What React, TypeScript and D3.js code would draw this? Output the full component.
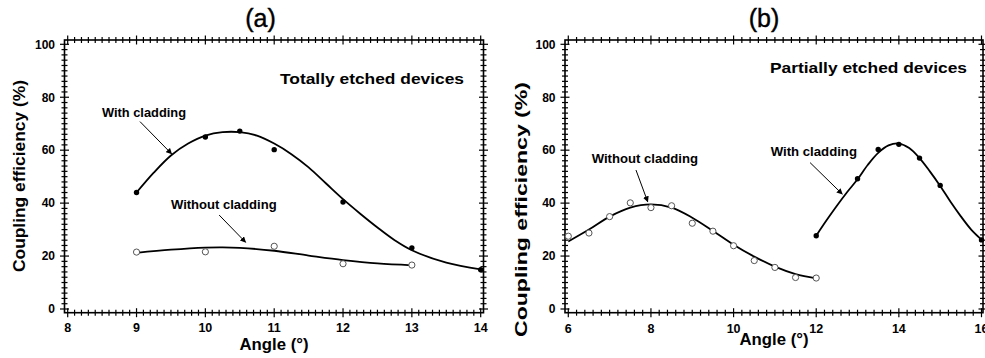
import React from 'react';
import * as d3 from 'd3';

// ---------- data ----------
const xTicksA = [8, 9, 10, 11, 12, 13, 14];
const xTicksB = [6, 8, 10, 12, 14, 16];
const yTicks = [0, 20, 40, 60, 80, 100];

// Panel (a) measured points
const aWithX = [9, 10, 10.5, 11, 12, 13, 14];
const aWithY = [44, 65, 67.2, 60.2, 40.4, 23.1, 14.8];
const aWithoutX = [9, 10, 11, 12, 13];
const aWithoutY = [21.5, 21.6, 23.7, 17.1, 16.6];
// Panel (a) fitted curves
const aWithFitX = [9, 9.25, 9.5, 9.75, 10, 10.25, 10.5, 10.75, 11, 11.25, 11.5, 11.75, 12, 12.25, 12.5, 12.75, 13, 13.5, 14];
const aWithFitY = [44, 51.5, 58, 62.5, 65.5, 66.8, 66.8, 65.5, 62.5, 58.5, 53.5, 47.5, 41.5, 36, 30.8, 26, 22.2, 17.5, 15];
const aWithoutFitX = [9, 9.5, 10, 10.25, 10.5, 11, 11.5, 12, 12.5, 13];
const aWithoutFitY = [21.2, 22.4, 23.2, 23.3, 23.1, 22.0, 20.2, 18.5, 17.2, 16.5];

// Panel (b) measured points
const bWithoutX = [6, 6.5, 7, 7.5, 8, 8.5, 9, 9.5, 10, 10.5, 11, 11.5, 12];
const bWithoutY = [27.5, 28.7, 34.9, 40.1, 38.3, 39, 32.4, 29.4, 23.9, 18.3, 15.7, 11.9, 11.7];
const bWithX = [12, 13, 13.5, 14, 14.5, 15, 16];
const bWithY = [27.7, 49.2, 60.3, 62.2, 57, 46.7, 26.1];
// Panel (b) fitted curves
const bWithoutFitX = [6, 6.5, 7, 7.5, 8, 8.5, 9, 9.5, 10, 10.5, 11, 11.5, 12];
const bWithoutFitY = [25.5, 30, 34.9, 38.3, 39.5, 38.3, 34.5, 29.5, 24.3, 19.8, 16, 13.2, 11.6];
const bWithFitX = [12, 12.25, 12.5, 12.75, 13, 13.25, 13.5, 13.75, 14, 14.25, 14.5, 14.75, 15, 15.25, 15.5, 15.75, 16];
const bWithFitY = [27.7, 33.5, 39, 44.2, 49, 54.5, 59, 61.8, 62.5, 60.8, 57, 52, 46.5, 40.5, 35, 30, 26.2];

const FONT = '"Liberation Sans", Arial, Helvetica, sans-serif';

type Pt = [number, number];
const zip = (xs: number[], ys: number[]): Pt[] => xs.map((x, i) => [x, ys[i]]);

interface Annot {
  text: string;
  x: number;
  y: number;
  len: number;
  tail: Pt;
  tip: Pt;
}

interface PanelProps {
  xDomain: [number, number];
  xRange: [number, number];
  frameX: [number, number];
  xTicks: number[];
  xMinorStep: number;
  tickLabelY: number;
  title: string;
  titleX: number;
  subtitle: string;
  subtitleX: number;
  subtitleY: number;
  subtitleLen: number;
  yLabelX: number;
  yLabelY: number;
  yLabelLen: number;
  xLabelY: number;
  series: { fit: Pt[]; pts: Pt[]; filled: boolean }[];
  annots: Annot[];
}

const yScale = d3.scaleLinear().domain([0, 100]).range([309, 44.3]);
const frameTop = 40;
const frameBottom = 312.7;

function Panel(p: PanelProps) {
  const x = d3.scaleLinear().domain(p.xDomain).range(p.xRange);
  const y = yScale;
  const [fl, fr] = p.frameX;
  const xMinor = d3.range(p.xDomain[0], p.xDomain[1] + 1e-6, p.xMinorStep);
  const yMinor = d3.range(0, 100 + 1e-6, 2);
  const line = d3
    .line<Pt>()
    .x((d) => x(d[0]))
    .y((d) => y(d[1]))
    .curve(d3.curveCatmullRom.alpha(0.5));
  const isMajorX = (v: number) => p.xTicks.some((t) => Math.abs(t - v) < 1e-6);
  const isMajorY = (v: number) => yTicks.some((t) => Math.abs(t - v) < 1e-6);
  const cx = (fl + fr) / 2;
  return (
    <g>
      <rect x={fl} y={frameTop} width={fr - fl} height={frameBottom - frameTop} fill="none" stroke="#000" strokeWidth={1.6} />
      {xMinor.map((v, i) => {
        const L = isMajorX(v) ? 4.5 : 3;
        const px = x(v);
        return (
          <g key={'xt' + i} stroke="#000" strokeWidth={1.2}>
            <line x1={px} x2={px} y1={frameBottom - L} y2={frameBottom + L} />
            <line x1={px} x2={px} y1={frameTop - L} y2={frameTop + L} />
          </g>
        );
      })}
      {yMinor.map((v, i) => {
        const L = isMajorY(v) ? 4.5 : 3;
        const py = y(v);
        return (
          <g key={'yt' + i} stroke="#000" strokeWidth={1.2}>
            <line x1={fl - L} x2={fl + L} y1={py} y2={py} />
            <line x1={fr - L} x2={fr + L} y1={py} y2={py} />
          </g>
        );
      })}
      {p.xTicks.map((t) => (
        <text key={'xl' + t} x={x(t)} y={p.tickLabelY} textAnchor="middle" fontFamily={FONT} fontWeight="bold" fontSize={12.5}>
          {t}
        </text>
      ))}
      {yTicks.map((t) => (
        <text key={'yl' + t} x={fl - 9.5} y={y(t) + 4.3} textAnchor="end" fontFamily={FONT} fontWeight="bold" fontSize={12}>
          {t}
        </text>
      ))}
      <text x={cx} y={p.xLabelY} textAnchor="middle" fontFamily={FONT} fontWeight="bold" fontSize={16} textLength={69} lengthAdjust="spacingAndGlyphs">
        Angle (°)
      </text>
      <text
        transform={`translate(${p.yLabelX},${p.yLabelY}) rotate(-90)`}
        textAnchor="middle"
        fontFamily={FONT}
        fontWeight="bold"
        fontSize={16.5}
        textLength={p.yLabelLen}
        lengthAdjust="spacingAndGlyphs"
      >
        Coupling efficiency (%)
      </text>
      <text x={p.titleX} y={27} textAnchor="middle" fontFamily={FONT} fontSize={25} stroke="#000" strokeWidth={0.4}>
        {p.title}
      </text>
      <text x={p.subtitleX} y={p.subtitleY} fontFamily={FONT} fontWeight="bold" fontSize={15} textLength={p.subtitleLen} lengthAdjust="spacingAndGlyphs">
        {p.subtitle}
      </text>
      {p.series.map((s, si) => (
        <g key={'s' + si}>
          <path d={line(s.fit) || ''} fill="none" stroke="#000" strokeWidth={1.8} />
          {s.pts.map((d, i) =>
            s.filled ? (
              <circle key={i} cx={x(d[0])} cy={y(d[1])} r={2.7} fill="#000" />
            ) : (
              <circle key={i} cx={x(d[0])} cy={y(d[1])} r={3.1} fill="#fff" stroke="#555" strokeWidth={1} />
            )
          )}
        </g>
      ))}
      {p.annots.map((a, i) => (
        <g key={'a' + i}>
          <text x={x(a.x)} y={y(a.y)} fontFamily={FONT} fontWeight="bold" fontSize={12.5} textLength={a.len} lengthAdjust="spacingAndGlyphs">
            {a.text}
          </text>
          <line x1={x(a.tail[0])} y1={y(a.tail[1])} x2={x(a.tip[0])} y2={y(a.tip[1])} stroke="#000" strokeWidth={1} markerEnd="url(#arrowHead)" />
        </g>
      ))}
    </g>
  );
}

export default function App() {
  return (
    <svg width={985} height={358} style={{ position: 'absolute', left: 0, top: 0, background: '#fff' }}>
      <defs>
        <marker id="arrowHead" viewBox="0 0 10 10" refX={9} refY={5} markerWidth={6} markerHeight={6} markerUnits="userSpaceOnUse" orient="auto">
          <path d="M0,0 L10,5 L0,10 z" fill="#000" />
        </marker>
      </defs>
      <rect x={0} y={0} width={985} height={358} fill="#fff" />
      <Panel
        xDomain={[8, 14]}
        xRange={[67.7, 480.7]}
        frameX={[64.5, 483.5]}
        xTicks={xTicksA}
        xMinorStep={0.1}
        tickLabelY={332}
        title="(a)"
        titleX={260.5}
        subtitle="Totally etched devices"
        subtitleX={280}
        subtitleY={84}
        subtitleLen={184}
        yLabelX={25}
        yLabelY={176}
        yLabelLen={192}
        xLabelY={349.5}
        series={[
          { fit: zip(aWithFitX, aWithFitY), pts: zip(aWithX, aWithY), filled: true },
          { fit: zip(aWithoutFitX, aWithoutFitY), pts: zip(aWithoutX, aWithoutY), filled: false },
        ]}
        annots={[
          { text: 'With cladding', x: 8.498, y: 72.7, len: 84, tail: [9.05, 70.8], tip: [9.51, 58.6] },
          { text: 'Without cladding', x: 9.5, y: 37.6, len: 105.7, tail: [10.2, 35.5], tip: [10.585, 25.2] },
        ]}
      />
      <Panel
        xDomain={[6, 16]}
        xRange={[568.3, 981.5]}
        frameX={[565, 983]}
        xTicks={xTicksB}
        xMinorStep={0.2}
        tickLabelY={333}
        title="(b)"
        titleX={764}
        subtitle="Partially etched devices"
        subtitleX={770}
        subtitleY={72.5}
        subtitleLen={197}
        yLabelX={527}
        yLabelY={209.5}
        yLabelLen={255}
        xLabelY={345}
        series={[
          { fit: zip(bWithoutFitX, bWithoutFitY), pts: zip(bWithoutX, bWithoutY), filled: false },
          { fit: zip(bWithFitX, bWithFitY), pts: zip(bWithX, bWithY), filled: true },
        ]}
        annots={[
          { text: 'Without cladding', x: 6.566, y: 55.0, len: 106.3, tail: [7.638, 52.5], tip: [7.922, 40.5] },
          { text: 'With cladding', x: 10.898, y: 57.8, len: 86.3, tail: [11.851, 55.3], tip: [12.631, 43.4] },
        ]}
      />
    </svg>
  );
}
